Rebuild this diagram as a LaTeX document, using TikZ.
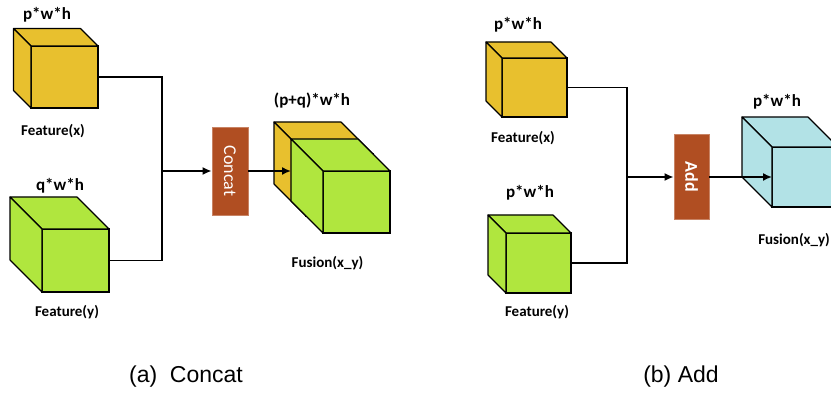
\documentclass[tikz,border=0pt]{standalone}
\usepackage{fontspec}
\setmainfont{Carlito}
\newfontfamily\captionfont{Liberation Sans}
\usetikzlibrary{arrows.meta,calc}

\definecolor{cubeyellow}{RGB}{232,192,46}
\definecolor{cubegreen}{RGB}{176,230,62}
\definecolor{cubeblue}{RGB}{178,226,230}
\definecolor{opbrown}{RGB}{176,78,34}

\tikzset{
  face/.style={draw=black, line width=1.1pt, inner sep=0pt, outer sep=0pt},
  sideface/.style={draw=black, line width=1.1pt, line join=round},
  dimlabel/.style={font=\fontsize{17}{17}\selectfont\bfseries, inner sep=0pt},
  namelabel/.style={font=\fontsize{15}{15}\selectfont\bfseries, inner sep=0pt},
  opbox/.style={fill=opbrown, draw=opbrown!70!white, line width=0.6pt, inner sep=0pt,
                text=white, font=\fontsize{18}{18}\selectfont},
  link/.style={line width=1.6pt},
  arrowlink/.style={line width=1.6pt, -{Latex[length=9pt,width=8pt]}},
  capt/.style={font=\captionfont\fontsize{23}{23}\selectfont, inner sep=0pt, anchor=base},
}

% cube: name, front-face centre, width, height, depth, colour
\newcommand\drawcube[6]{%
  \node[face, fill=#6, minimum width=#3pt, minimum height=#4pt] (#1) at #2 {};
  \filldraw[sideface, fill=#6] (#1.north west) -- ++(-#5,-#5) -- ++(#3,0)
      -- (#1.north east) -- cycle;
  \filldraw[sideface, fill=#6] (#1.north west) -- ++(-#5,-#5) -- ++(0,#4)
      -- (#1.south west) -- cycle;
}

\begin{document}
\begin{tikzpicture}[x=1pt, y=-1pt]
\useasboundingbox (0,0) rectangle (831,395);
\begin{scope}
\clip (0,0) rectangle (831,395);

% ---------- (a) Concat ----------
\drawcube{fxa}{(64.5,77)}{67}{62}{17.5}{cubeyellow}
\drawcube{fya}{(75.5,260.5)}{67}{63}{32}{cubegreen}

\node[dimlabel] (dxa) at (47,15) {p*w*h};
\node[namelabel] (nxa) at (53,131) {Feature(x)};
\node[dimlabel] (dya) at (60,186) {q*w*h};
\node[namelabel] (nya) at (67,312) {Feature(y)};

\node[opbox, minimum width=36pt, minimum height=88pt] (concat) at (230,171)
  {\rotatebox{-90}{Concat}};

\drawcube{fuy}{(339.5,185)}{67}{62}{32}{cubeyellow}
\drawcube{fug}{(356.5,202)}{67}{62}{32}{cubegreen}
\node[dimlabel] (dfa) at (312,101) {(p+q)*w*h};
\node[namelabel] (nfa) at (327.5,263) {Fusion(x\_y)};

\coordinate (ja) at (162,171);
\coordinate (fuseIn) at (291,171);
\draw[link] (fxa.east) -| (ja) |- (fya.east);
\draw[arrowlink, line width=2pt] (ja) -- (concat.west);
\draw[arrowlink] (concat.east) -- (fuseIn);

% ---------- (b) Add ----------
\drawcube{fxb}{(534.5,87.5)}{65}{59}{16}{cubeyellow}
\drawcube{fyb}{(538.5,263)}{65}{60}{18}{cubegreen}

\node[dimlabel] (dxb) at (518,25) {p*w*h};
\node[namelabel] (nxb) at (523,138) {Feature(x)};
\node[dimlabel] (dyb) at (530,193) {p*w*h};
\node[namelabel] (nyb) at (537,312) {Feature(y)};

\node[opbox, minimum width=35pt, minimum height=85pt] (add) at (691.5,177)
  {\rotatebox{-90}{\bfseries Add}};

\drawcube{fub}{(805,177)}{66}{60}{30}{cubeblue}
\node[dimlabel] (dfb) at (777,102) {p*w*h};
\node[namelabel, anchor=east] (nfb) at (830,240) {Fusion(x\_y)};

\coordinate (jb) at (627,177);
\draw[link] (fxb.east) -| (jb) |- (fyb.east);
\draw[arrowlink, line width=2pt] (jb) -- (add.west);
\draw[arrowlink] (add.east) -- (fub.west);

% ---------- captions ----------
\node[capt] (capa) at (186,383) {(a)\ \ Concat};
\node[capt] (capb) at (681,383) {(b) Add};
\end{scope}
\end{tikzpicture}
\end{document}
